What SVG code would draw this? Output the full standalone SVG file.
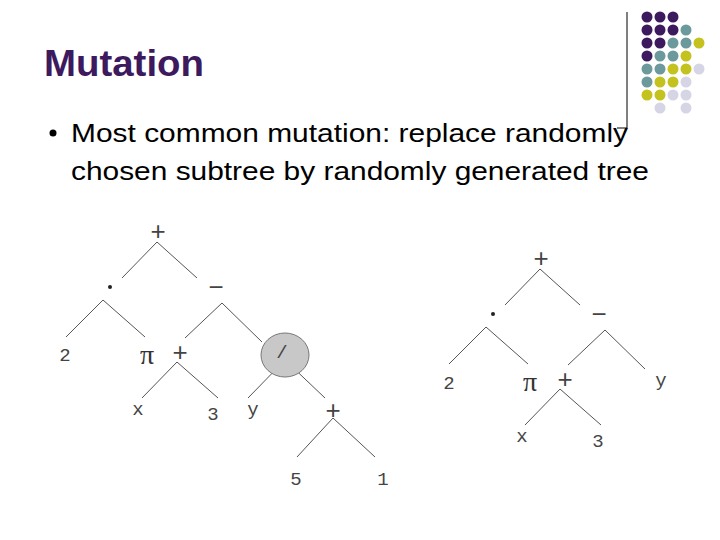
<svg xmlns="http://www.w3.org/2000/svg" width="720" height="540" viewBox="0 0 720 540">
<style>
.l{stroke:#555;stroke-width:1;fill:none}
.t{font-family:"Liberation Mono",monospace;font-size:19px;fill:#444;text-anchor:middle}
.op{font-family:"Liberation Sans",sans-serif;font-size:26px;fill:#444;text-anchor:middle}
.pi{font-family:"Liberation Serif",serif;font-size:28px;fill:#333;text-anchor:middle}
.P{fill:#3d1a5e}.T{fill:#6c9a9c}.Y{fill:#c4c21e}.L{fill:#d5d5e6}
</style>
<rect width="720" height="540" fill="#fff"/>
<g id="decor">
<path d="M627 12V128H617" stroke="#000" fill="none"/>
<g>
<circle class="P" cx="647" cy="17" r="5.5"/><circle class="P" cx="660" cy="17" r="5.5"/><circle class="P" cx="673" cy="17" r="5.5"/>
<circle class="P" cx="647" cy="30" r="5.5"/><circle class="P" cx="660" cy="30" r="5.5"/><circle class="P" cx="673" cy="30" r="5.5"/><circle class="T" cx="686" cy="30" r="5.5"/>
<circle class="P" cx="647" cy="43" r="5.5"/><circle class="P" cx="660" cy="43" r="5.5"/><circle class="T" cx="673" cy="43" r="5.5"/><circle class="T" cx="686" cy="43" r="5.5"/><circle class="Y" cx="699" cy="43" r="5.5"/>
<circle class="P" cx="647" cy="56" r="5.5"/><circle class="T" cx="660" cy="56" r="5.5"/><circle class="T" cx="673" cy="56" r="5.5"/><circle class="Y" cx="686" cy="56" r="5.5"/>
<circle class="T" cx="647" cy="69" r="5.5"/><circle class="T" cx="660" cy="69" r="5.5"/><circle class="Y" cx="673" cy="69" r="5.5"/><circle class="Y" cx="686" cy="69" r="5.5"/><circle class="L" cx="699" cy="69" r="5.5"/>
<circle class="T" cx="647" cy="82" r="5.5"/><circle class="Y" cx="660" cy="82" r="5.5"/><circle class="Y" cx="673" cy="82" r="5.5"/><circle class="L" cx="686" cy="82" r="5.5"/>
<circle class="Y" cx="647" cy="95" r="5.5"/><circle class="Y" cx="660" cy="95" r="5.5"/><circle class="L" cx="673" cy="95" r="5.5"/><circle class="L" cx="686" cy="95" r="5.5"/>
<circle class="L" cx="660" cy="108" r="5.5"/><circle class="L" cx="686" cy="108" r="5.5"/>
</g>
</g>
<g id="title"><text x="44" y="76" font-family="Liberation Sans,sans-serif" font-size="36" font-weight="bold" fill="#3d1a5e" textLength="160" lengthAdjust="spacingAndGlyphs">Mutation</text></g>
<g id="bullet">
<circle cx="53" cy="133" r="3.5" fill="#000"/>
<text font-family="Liberation Sans,sans-serif" font-size="25" fill="#000"><tspan x="71" y="142" textLength="557" lengthAdjust="spacingAndGlyphs">Most common mutation: replace randomly</tspan></text>
<text font-family="Liberation Sans,sans-serif" font-size="25" fill="#000"><tspan x="71" y="180" textLength="578" lengthAdjust="spacingAndGlyphs">chosen subtree by randomly generated tree</tspan></text>
</g>
<g id="connectors">
<path class="l" d="M157 242L122 278M157 242L197 278M103 300L66 337M103 300L145 337M222 303L185 338M222 303L262 342M177 362L142 398M177 362L218 398M285 360L248 398M285 360L325 398M333 418L297 457M333 418L375 457"/>
<path class="l" transform="translate(383 27)" d="M157 242L122 278M157 242L197 278M103 300L66 337M103 300L145 337M222 303L185 338M222 303L262 342M177 362L142 398M177 362L218 398"/>
</g>
<g id="left-tree">
<ellipse cx="285" cy="355" rx="24" ry="22" fill="#c8c8c8" stroke="#777"/>
<text class="op" x="158" y="240">+</text>
<circle cx="110" cy="287" r="2" fill="#222"/>
<text class="op" x="216" y="296">−</text>
<text class="t" x="65" y="361">2</text>
<text class="pi" x="147" y="364">π</text>
<text class="op" x="180" y="361">+</text>
<text class="t" x="282" y="358">/</text>
<text class="t" x="138" y="415">x</text>
<text class="t" x="213" y="420">3</text>
<text class="t" x="253" y="415">y</text>
<text class="op" x="333" y="419">+</text>
<text class="t" x="296" y="485">5</text>
<text class="t" x="383" y="485">1</text>
</g>
<g id="right-tree">
<text class="op" x="541" y="267">+</text>
<circle cx="493" cy="314" r="2" fill="#222"/>
<text class="op" x="599" y="323">−</text>
<text class="t" x="449" y="389">2</text>
<text class="pi" x="530" y="391">π</text>
<text class="op" x="565" y="388">+</text>
<text class="t" x="661" y="386">y</text>
<text class="t" x="522" y="442">x</text>
<text class="t" x="598" y="447">3</text>
</g>
</svg>
